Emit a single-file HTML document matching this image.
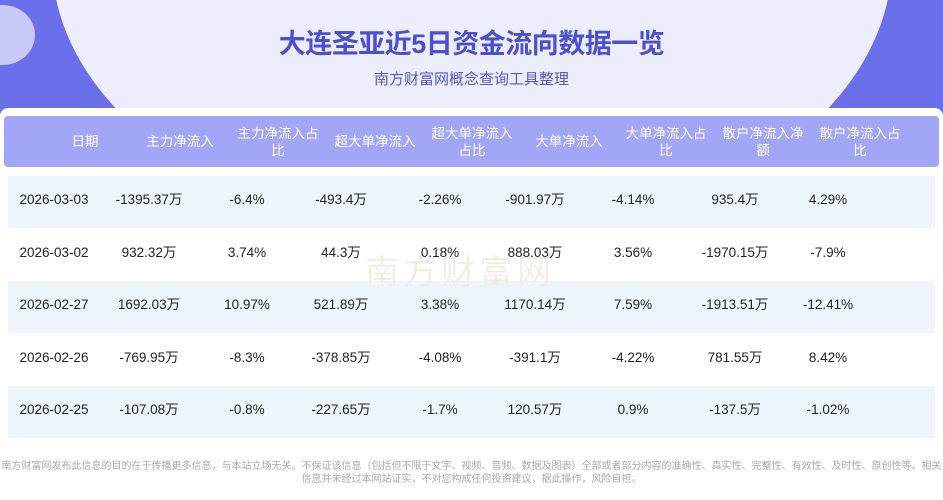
<!DOCTYPE html>
<html><head><meta charset="utf-8"><style>
body{margin:0;width:943px;height:500px;overflow:hidden;background:#fff;font-family:"Liberation Sans","Noto Sans CJK SC",sans-serif;position:relative}
.bg{position:absolute;left:0;top:0;width:943px;height:120px;background:#6b6fe9}
.oval{position:absolute;left:52px;top:-320px;width:840px;height:560px;border-radius:50%;background:linear-gradient(#f4f5ff,#e9eafc)}
.c1{position:absolute;left:-30px;top:5px;width:65px;height:60px;border-radius:50%;background:#c9cbf6}
.title{position:absolute;top:22px;width:943px;text-align:center;font-size:27px;font-weight:bold;color:#4b50d2;letter-spacing:-0.5px}
.sub{position:absolute;top:68px;width:943px;text-align:center;font-size:15px;color:#5558c8}
.card{position:absolute;left:0;top:108px;width:943px;height:340px;background:#fff;border-radius:8px 8px 0 0}
.hd{position:absolute;left:4px;top:116px;width:935px;height:51px;background:#a2a6f6;border-radius:4px}
.hd div{position:absolute;top:0;height:51px;display:flex;align-items:center;justify-content:center;text-align:center;color:#fff;font-size:13.5px;line-height:17px;width:96px}
.band{position:absolute;left:8px;width:927px;height:52px;background:#eef5fd}
.cell{position:absolute;font-size:13.5px;color:#222;width:120px;text-align:center;margin-left:-60px;height:18px;line-height:18px;white-space:nowrap}
.cell span{display:inline-block;vertical-align:top}
.foot{position:absolute;top:460px;width:943px;text-align:center;font-size:10px;color:#aaa;line-height:13px}
</style></head><body>
<div class="bg"></div><div class="oval"></div><div class="c1"></div>
<div class="title">大连圣亚近5日资金流向数据一览</div>
<div class="sub">南方财富网概念查询工具整理</div>
<div class="card"></div>
<div class="hd">
<div style="left:33px">日期</div><div style="left:128px">主力净流入</div><div style="left:226px">主力净流入占<br>比</div><div style="left:323px">超大单净流入</div><div style="left:420px">超大单净流入<br>占比</div><div style="left:517px">大单净流入</div><div style="left:614px">大单净流入占<br>比</div><div style="left:711px">散户净流入净<br>额</div><div style="left:808px">散户净流入占<br>比</div>
</div>
<div class="band" style="top:176px"></div>
<div class="band" style="top:281px"></div>
<div class="band" style="top:386px"></div>
<div style="position:absolute;left:365px;top:245px;font-size:34px;color:#f4eee2;letter-spacing:4px">南方财富网</div>
<div id="rows"></div>
<div class="foot">南方财富网发布此信息的目的在于传播更多信息，与本站立场无关。不保证该信息（包括但不限于文字、视频、音频、数据及图表）全部或者部分内容的准确性、真实性、完整性、有效性、及时性、原创性等。相关信息并未经过本网站证实，不对您构成任何投资建议，据此操作，风险自担。</div>
<script>
var d=[["2026-03-03","-1395.37万","-6.4%","-493.4万","-2.26%","-901.97万","-4.14%","935.4万","4.29%"],
["2026-03-02","932.32万","3.74%","44.3万","0.18%","888.03万","3.56%","-1970.15万","-7.9%"],
["2026-02-27","1692.03万","10.97%","521.89万","3.38%","1170.14万","7.59%","-1913.51万","-12.41%"],
["2026-02-26","-769.95万","-8.3%","-378.85万","-4.08%","-391.1万","-4.22%","781.55万","8.42%"],
["2026-02-25","-107.08万","-0.8%","-227.65万","-1.7%","120.57万","0.9%","-137.5万","-1.02%"]];
var xs=[54,149,247,341,440,535,633,735,828],h="";
d.forEach(function(r,i){var y=191+i*52.5;r.forEach(function(v,j){h+='<div class="cell" style="left:'+xs[j]+'px;top:'+y+'px"><span>'+v+'</span></div>'})});
document.getElementById("rows").innerHTML=h;
</script>
</body></html>
